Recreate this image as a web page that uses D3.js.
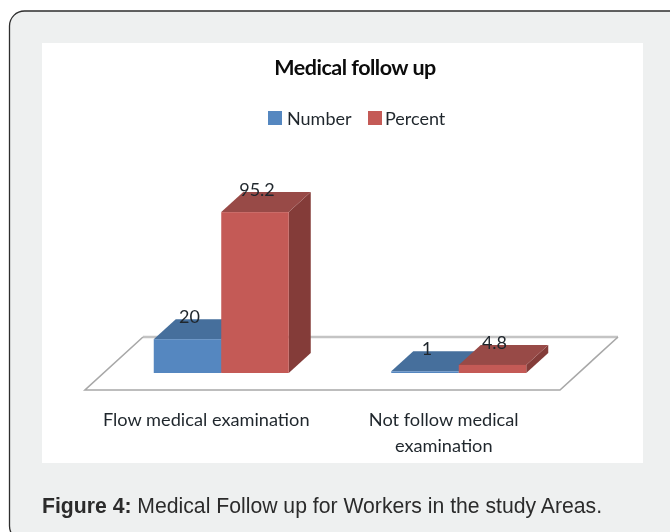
<!DOCTYPE html>
<html>
<head>
<meta charset="utf-8">
<script src="https://cdn.jsdelivr.net/npm/d3@7"></script>
<style>
  html, body { margin: 0; padding: 0; background: #fff; overflow: hidden; }
  svg { display: block; }
  .chart { filter: blur(0.7px); }
  .chart text { font-family: Lato, "Open Sans", sans-serif; fill: #1f262c; }
  .caption { font-family: "Liberation Sans", Arial, sans-serif; font-size: 21.2px; fill: #2b2b2b; filter: blur(0.35px); }
</style>
</head>
<body>
<div id="chart"></div>
<script>
// values
var categories = ['Flow medical examination', 'Not follow medical examination']
var seriesNames = ['Number', 'Percent']
var numberValues = [20, 1]
var percentValues = [95.2, 4.8]

var colors = {
    Number: { front: '#5587c0', top: '#466f9c', side: '#3f6690' },
    Percent: { front: '#c45a56', top: '#984a47', side: '#843c39' }
}

var width = 670
var height = 532

// how far the 3d depth of a bar runs up and to the right
var depthX = 22
var depthY = 20

var svg = d3.select('#chart')
    .append('svg')
    .attr('width', width)
    .attr('height', height)

// card and white chart area
svg.append('rect')
    .attr('x', 9.5)
    .attr('y', 11)
    .attr('width', 800)
    .attr('height', 530)
    .attr('rx', 15)
    .style('fill', '#eef0f0')
    .style('stroke', '#2e2e2e')
    .style('stroke-width', 1.3)

svg.append('rect')
    .attr('x', 42)
    .attr('y', 43)
    .attr('width', 601)
    .attr('height', 420)
    .style('fill', '#fff')

var chart = svg.append('g').attr('class', 'chart')

var x0 = d3.scaleBand()
    .domain(categories)
    .range([102.5, 577.5])

var x1 = d3.scaleBand()
    .domain(seriesNames)
    .range([0, 135])

var y = d3.scaleLinear()
    .domain([0, 100])
    .range([373, 204])

// floor of the 3d plot
var floor = d3.line()
var floorBack = [[143, 337], [618, 337]]
var floorFront = [[143, 337], [85, 390], [560, 390], [618, 337]]

chart.append('path')
    .attr('d', floor(floorBack))
    .style('fill', 'none')
    .style('stroke', '#c4c4c4')
    .style('stroke-width', 2.4)
chart.append('path')
    .attr('d', floor(floorFront))
    .style('fill', 'none')
    .style('stroke', '#a8a8a8')
    .style('stroke-width', 1.6)

// one record per bar, left to right
var bars = []
categories.forEach(function (c, i) {
    bars.push({ category: c, series: 'Number', value: numberValues[i] })
    bars.push({ category: c, series: 'Percent', value: percentValues[i] })
})

function barLeft(d) {
    return x0(d.category) + x0.bandwidth() / 2 - 67.5 + x1(d.series)
}

var bar = chart.selectAll('.bar')
    .data(bars)
    .enter()
    .append('g')
    .attr('class', 'bar')

// side
bar.append('path')
    .attr('d', function (d) {
        var r = barLeft(d) + x1.bandwidth()
        return floor([[r, y(d.value)], [r + depthX, y(d.value) - depthY], [r + depthX, y(0) - depthY], [r, y(0)]]) + 'Z'
    })
    .style('fill', function (d) { return colors[d.series].side })

// top
bar.append('path')
    .attr('d', function (d) {
        var l = barLeft(d)
        var r = l + x1.bandwidth()
        var t = y(d.value)
        return floor([[l, t], [l + depthX, t - depthY], [r + depthX, t - depthY], [r, t]]) + 'Z'
    })
    .style('fill', function (d) { return colors[d.series].top })

// front
bar.append('rect')
    .attr('x', barLeft)
    .attr('y', function (d) { return y(d.value) })
    .attr('width', x1.bandwidth())
    .attr('height', function (d) { return y(0) - y(d.value) })
    .style('fill', function (d) { return colors[d.series].front })

// value labels sit on the depth of the bar
chart.selectAll('.value')
    .data(bars)
    .enter()
    .append('text')
    .attr('class', 'value')
    .attr('x', function (d) { return barLeft(d) + x1.bandwidth() / 2 + 2 })
    .attr('y', function (d) { return y(d.value) - 16 })
    .attr('text-anchor', 'middle')
    .style('font-size', '18px')
    .text(function (d) { return d.value })

// category labels, wrapped to the band
var catLabel = chart.selectAll('.cat')
    .data(categories)
    .enter()
    .append('text')
    .attr('class', 'cat')
    .attr('text-anchor', 'middle')
    .style('font-size', '18.2px')
    .attr('transform', function (d) {
        return 'translate(' + (x0(d) + x0.bandwidth() / 2 - 15) + ',426)'
    })

catLabel.each(function (d) {
    var text = d3.select(this)
    var words = d.split(' ')
    var line = []
    var tspan = text.append('tspan').attr('x', 0).attr('y', 0)
    var row = 0
    words.forEach(function (w) {
        line.push(w)
        tspan.text(line.join(' '))
        if (tspan.node().getComputedTextLength() > x0.bandwidth() - 10 && line.length > 1) {
            line.pop()
            tspan.text(line.join(' '))
            line = [w]
            row++
            tspan = text.append('tspan').attr('x', 0).attr('y', row * 26).text(w)
        }
    })
})

// title
chart.append('text')
    .attr('x', 355)
    .attr('y', 75)
    .attr('text-anchor', 'middle')
    .style('font-size', '21.5px')
    .style('font-weight', 'bold')
    .style('letter-spacing', '-0.5px')
    .style('fill', '#0c0c0c')
    .text('Medical follow up')

// legend
var legendX = d3.scaleOrdinal()
    .domain(seriesNames)
    .range([268, 368])

var legend = chart.selectAll('.legend')
    .data(seriesNames)
    .enter()
    .append('g')
    .attr('class', 'legend')
    .attr('transform', function (d) { return 'translate(' + legendX(d) + ',111)' })

legend.append('rect')
    .attr('width', 14)
    .attr('height', 14)
    .style('fill', function (d) { return colors[d].front })

legend.append('text')
    .attr('x', function (d, i) { return i === 0 ? 19 : 17 })
    .attr('y', 14)
    .style('font-size', '18px')
    .text(function (d) { return d })

// caption below the chart
var caption = svg.append('text')
    .attr('class', 'caption')
    .attr('x', 42)
    .attr('y', 513)

caption.append('tspan')
    .style('font-weight', 'bold')
    .text('Figure 4:')
caption.append('tspan')
    .text(' Medical Follow up for Workers in the study Areas.')
</script>
</body>
</html>
